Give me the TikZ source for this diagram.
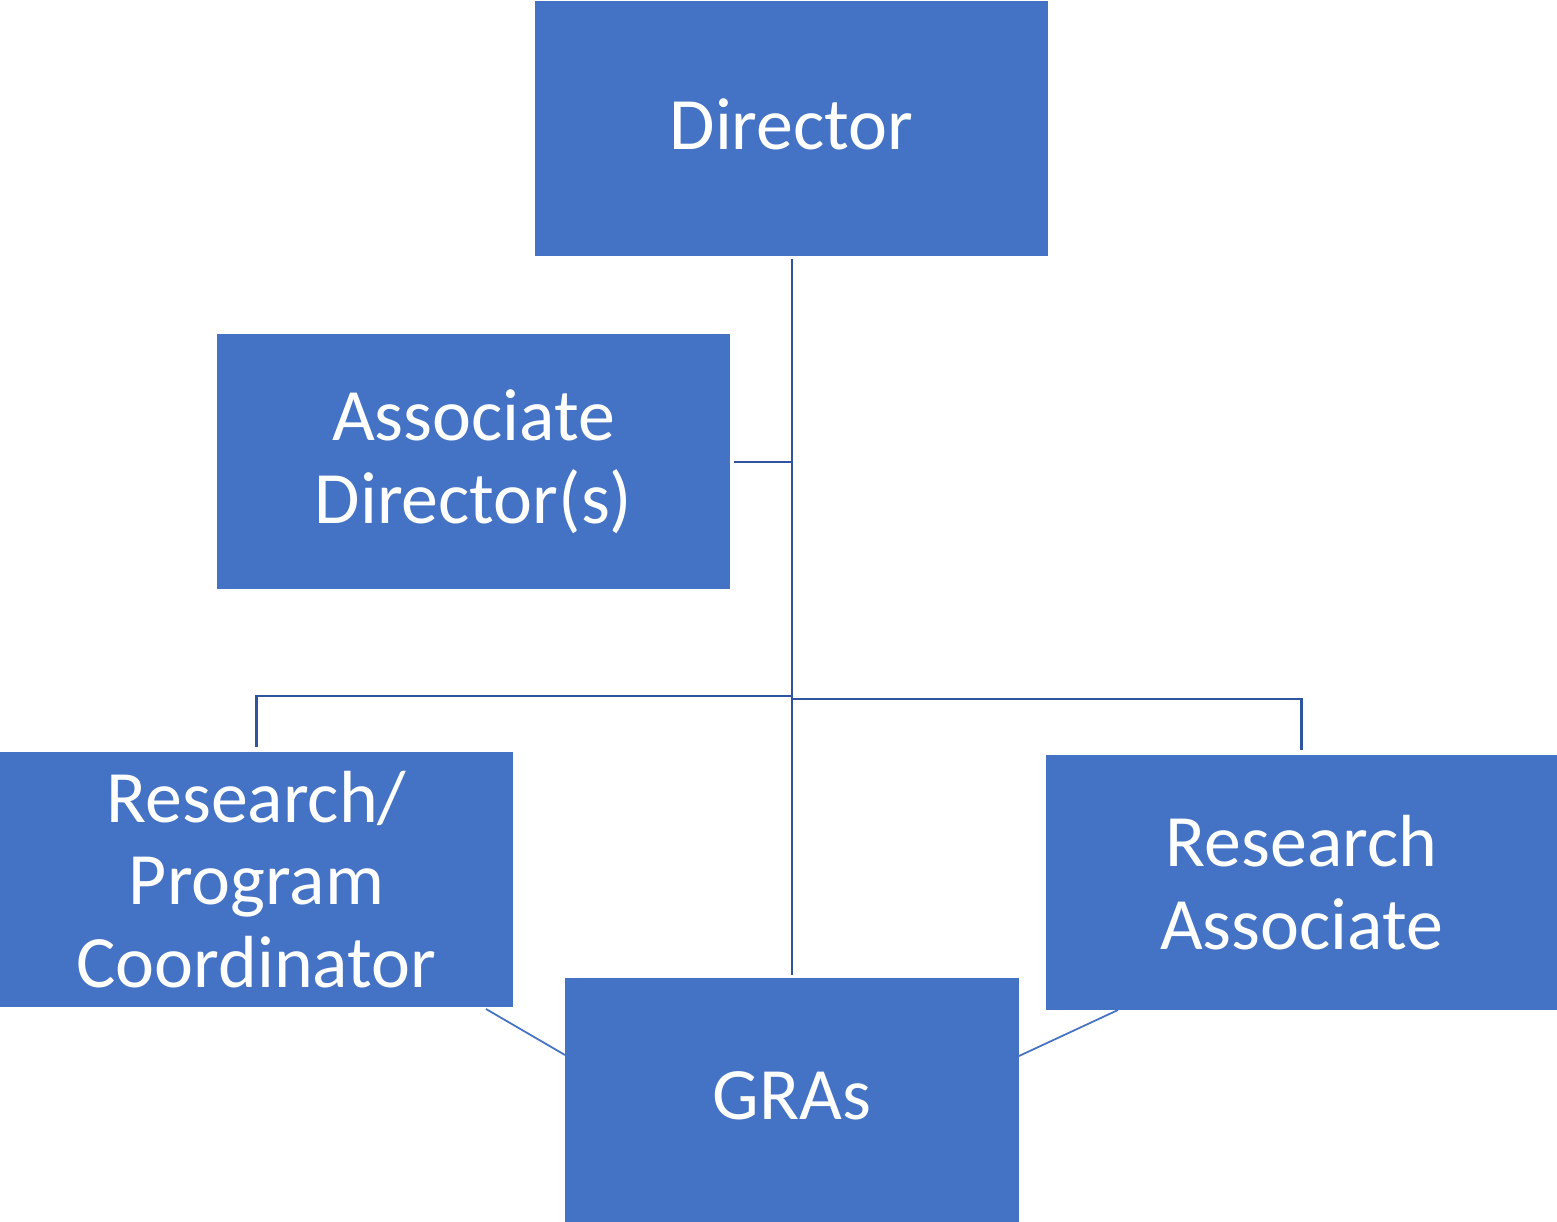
\documentclass[tikz,border=0pt]{standalone}
\usepackage{fontspec}
\setmainfont{Carlito}
\definecolor{boxblue}{HTML}{4472C4}
\definecolor{linkblue}{HTML}{2F55A0}
\begin{document}
\begin{tikzpicture}[x=0.01cm,y=-0.01cm,
  box/.style={rectangle, fill=boxblue, draw=none, text=white, align=center,
    inner sep=0pt, font=\fontsize{21}{23.5}\selectfont},
  oneline/.style={text depth=0.08cm},
  link/.style={draw=linkblue, line width=0.8pt},
  thin link/.style={draw=boxblue, line width=0.5pt}]
\useasboundingbox (0,0) rectangle (1557,1222);
\node[box, oneline, minimum width=5.13cm, minimum height=2.55cm] (dir) at (791.5,128.5) {Director};
\node[box, minimum width=5.13cm, minimum height=2.55cm] (adir) at (473.5,461.5) {Associate\\Director(s)};
\node[box, minimum width=5.13cm, minimum height=2.55cm] (rpc) at (256.5,879.5) {Research/\\Program\\Coordinator};
\node[box, oneline, minimum width=4.54cm, minimum height=2.44cm] (gra) at (792,1100) {GRAs};
\node[box, minimum width=5.11cm, minimum height=2.55cm] (ra) at (1301.5,882.5) {Research\\Associate};
\coordinate (top) at (792,259);
\coordinate (bot) at (792,975);
\coordinate (adj) at (792,462);
\coordinate (jl) at (792,696);
\coordinate (jr) at (792,699);
\draw[link] (top) -- (bot);
\draw[link] ([xshift=0.03cm]adir.east |- adj) -- (adj);
\draw[link] (jl) -| ([yshift=0.04cm]rpc.north);
\draw[link] (jr) -| ([yshift=0.04cm]ra.north);
\draw[thin link] (486,1009) -- (565,1055);
\draw[thin link] (1118,1010) -- (1019,1056);
\end{tikzpicture}
\end{document}
